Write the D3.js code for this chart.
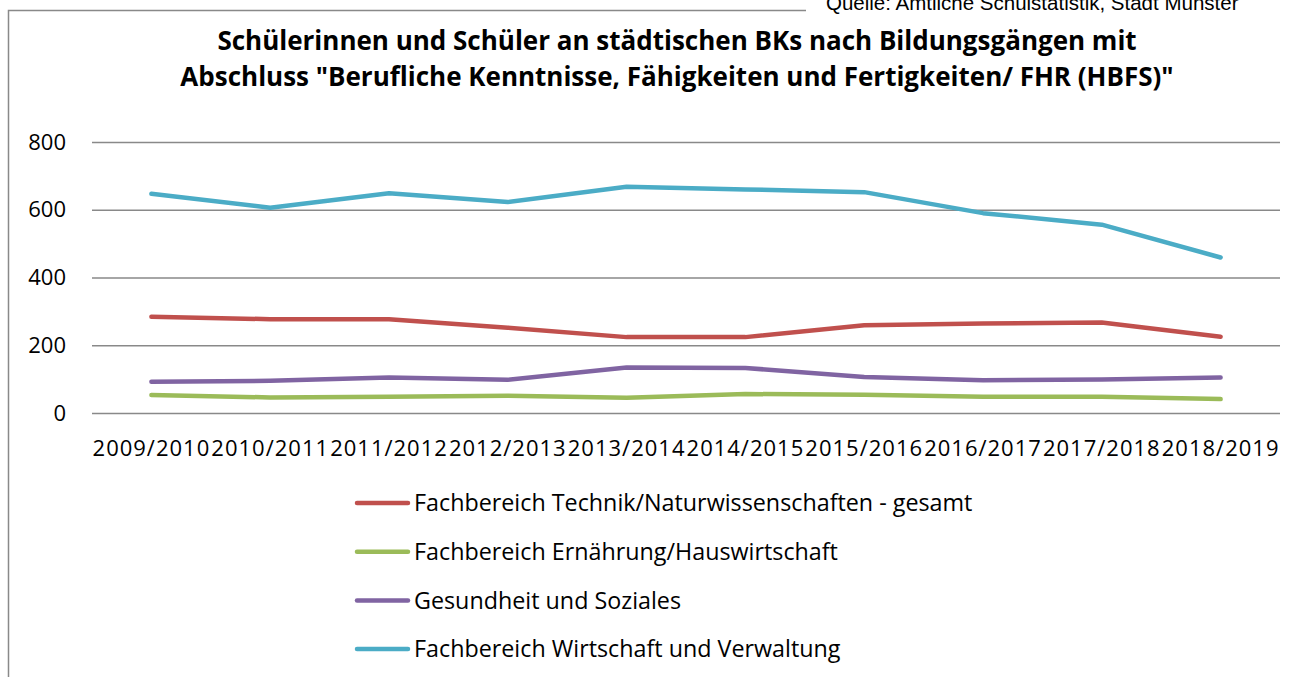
<!DOCTYPE html>
<html>
<head>
<meta charset="utf-8">
<script src="https://cdn.jsdelivr.net/npm/d3@7"></script>
<style>
  body { margin: 0; background: #fff; }
  svg text { font-family: "Open Sans", "Noto Sans", sans-serif; }
</style>
</head>
<body>
<svg id="chart" width="1301" height="677"></svg>
<script>
const years = ["2009/2010", "2010/2011", "2011/2012", "2012/2013", "2013/2014",
  "2014/2015", "2015/2016", "2016/2017", "2017/2018", "2018/2019"];
const seriesNames = [
  "Fachbereich Technik/Naturwissenschaften - gesamt",
  "Fachbereich Ernährung/Hauswirtschaft",
  "Gesundheit und Soziales",
  "Fachbereich Wirtschaft und Verwaltung"
];
const technik = [284, 277, 277, 252, 224, 224, 259, 264, 267, 225];
const ernaehrung = [53, 46, 48, 51, 45, 56, 54, 48, 48, 41];
const gesundheit = [92, 95, 105, 98, 134, 133, 106, 97, 99, 105];
const wirtschaft = [647, 606, 649, 623, 668, 660, 652, 590, 556, 459];
const yTicks = [0, 200, 400, 600, 800];
const colors = ["#C0504D", "#9BBB59", "#8064A2", "#4BACC6"];

const svg = d3.select("#chart");

// chart frame
svg.append("rect")
  .attr("x", 8.5).attr("y", 10.5)
  .attr("width", 1400).attr("height", 800)
  .attr("fill", "none").attr("stroke", "#898989").attr("stroke-width", 1.5);

// source note, white box over the frame
svg.append("rect").attr("x", 806).attr("y", 0).attr("width", 495).attr("height", 18).attr("fill", "#fff");
svg.append("text")
  .attr("x", 826).attr("y", 10)
  .style("font-family", "'Liberation Sans', Arial, sans-serif")
  .attr("font-size", 20.5).attr("fill", "#000")
  .text("Quelle: Amtliche Schulstatistik, Stadt Münster");

// title
const title = svg.append("text")
  .attr("text-anchor", "middle").attr("font-weight", "bold")
  .attr("font-size", 26).attr("fill", "#000");
title.append("tspan").attr("x", 677).attr("y", 50)
  .text("Schülerinnen und Schüler an städtischen BKs nach Bildungsgängen mit");
title.append("tspan").attr("x", 677).attr("y", 86)
  .text("Abschluss \"Berufliche Kenntnisse, Fähigkeiten und Fertigkeiten/ FHR (HBFS)\"");

const margin = { left: 92, right: 1280, top: 142, bottom: 413 };

const x = d3.scaleBand().domain(years).range([margin.left, margin.right]);
const y = d3.scaleLinear().domain([0, 800]).range([margin.bottom, margin.top]);

// grid + y axis labels
const yAxis = svg.append("g")
  .attr("transform", `translate(${margin.left},0)`)
  .call(d3.axisLeft(y).tickValues(yTicks).tickSize(-(margin.right - margin.left)).tickPadding(26).tickFormat(d3.format("d")));
yAxis.select(".domain").remove();
yAxis.selectAll(".tick line").attr("stroke", "#898989").attr("stroke-width", 1.5);
yAxis.selectAll(".tick text").attr("font-size", 22).attr("fill", "#000")
  .style("font-family", "'Open Sans', sans-serif");

// x axis labels
const xAxis = svg.append("g")
  .attr("transform", `translate(0,${margin.bottom})`)
  .call(d3.axisBottom(x).tickSize(0).tickPadding(27));
xAxis.select(".domain").remove();
xAxis.selectAll(".tick text").attr("font-size", 22).attr("fill", "#000")
  .style("font-family", "'Open Sans', sans-serif")
  .style("letter-spacing", "1px");

const allSeries = [technik, ernaehrung, gesundheit, wirtschaft];

const line = d3.line()
  .x((d, i) => x(years[i]) + x.bandwidth() / 2)
  .y(d => y(d));

svg.append("g").selectAll("path")
  .data(allSeries)
  .join("path")
  .attr("d", line)
  .attr("fill", "none")
  .attr("stroke", (d, i) => colors[i])
  .attr("stroke-width", 4.5)
  .attr("stroke-linecap", "round")
  .attr("stroke-linejoin", "round");

// legend
const legend = svg.append("g").selectAll("g")
  .data(seriesNames)
  .join("g")
  .attr("transform", (d, i) => `translate(357,${503 + i * 48.7})`);

legend.append("line")
  .attr("x1", 0).attr("x2", 51)
  .attr("stroke", (d, i) => colors[i])
  .attr("stroke-width", 4.5)
  .attr("stroke-linecap", "round");

legend.append("text")
  .attr("x", 57).attr("dy", "0.35em")
  .attr("font-size", 23.3).attr("fill", "#000")
  .text(d => d);
</script>
</body>
</html>
